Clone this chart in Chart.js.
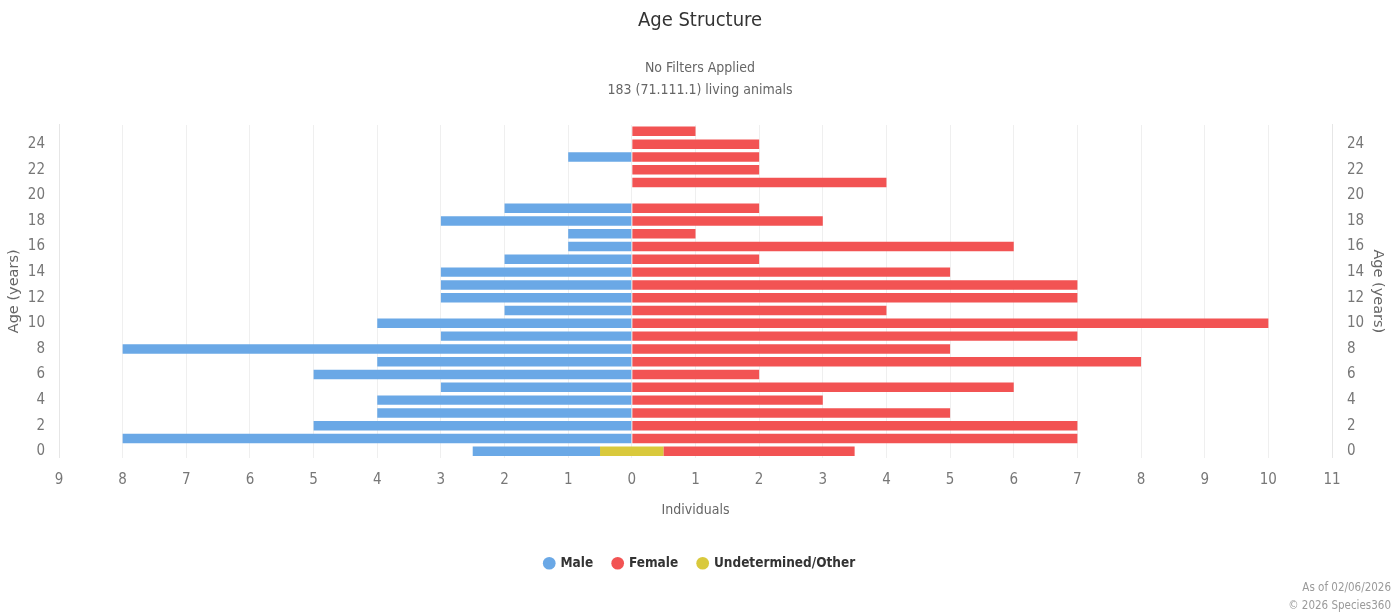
<!DOCTYPE html>
<html>
<head>
<meta charset="utf-8">
<script src="https://cdn.jsdelivr.net/npm/chart.js@4/dist/chart.umd.min.js"></script>
<style>
    html, body { margin: 0; padding: 0; background: #fff; }
    #wrap { position: relative; width: 1400px; height: 616px; }
    #footer {
        position: absolute; right: 9px; bottom: 2px; text-align: right;
        font-family: 'Liberation Sans Narrow', 'DejaVu Sans Condensed', sans-serif;
        font-size: 11.5px; line-height: 18px; color: #9a9a9a;
    }
</style>
</head>
<body>
<div id="wrap">
    <canvas id="ageChart" width="1400" height="616"></canvas>
    <div id="footer">As of 02/06/2026<br>© 2026 Species360</div>
</div>
<script>
// ages 0..25
var ages = ['0','1','2','3','4','5','6','7','8','9','10','11','12','13','14','15','16','17','18','19','20','21','22','23','24','25'];
var male   = [2, 8, 5, 4, 4, 3, 5, 4, 8, 3, 4, 2, 3, 3, 3, 2, 1, 1, 3, 2, 0, 0, 0, 1, 0, 0];
var female = [3, 7, 7, 5, 3, 6, 2, 8, 5, 7, 10, 4, 7, 7, 5, 2, 6, 1, 3, 2, 0, 4, 2, 2, 2, 1];
var other  = [1, 0, 0, 0, 0, 0, 0, 0, 0, 0, 0, 0, 0, 0, 0, 0, 0, 0, 0, 0, 0, 0, 0, 0, 0, 0];
var xTicks = [-9, -8, -7, -6, -5, -4, -3, -2, -1, 0, 1, 2, 3, 4, 5, 6, 7, 8, 9, 10, 11];

var narrow = "'Liberation Sans Narrow', 'DejaVu Sans Condensed', sans-serif";

// undetermined is centred on zero, male/female start from its edges
var maleBars = [], femaleBars = [], otherBars = [];
for (var i = 0; i < ages.length; i++) {
    var half = other[i] / 2;
    maleBars.push(male[i] ? [-half - male[i], -half] : null);
    femaleBars.push(female[i] ? [half, half + female[i]] : null);
    otherBars.push(other[i] ? [-half, half] : null);
}

var evenOnly = function(value, index) {
    var lbl = this.getLabelForValue(value);
    return (parseInt(lbl) % 2 === 0) ? lbl : '';
};

var ctx = document.getElementById('ageChart').getContext('2d');
var ageChart = new Chart(ctx, {
    type: 'bar',
    data: {
        labels: ages,
        datasets: [{
            label: 'Male',
            data: maleBars,
            backgroundColor: '#6aa8e6',
            grouped: false
        }, {
            label: 'Female',
            data: femaleBars,
            backgroundColor: '#f25353',
            grouped: false
        }, {
            label: 'Undetermined/Other',
            data: otherBars,
            backgroundColor: '#d9c93c',
            grouped: false
        }]
    },
    options: {
        indexAxis: 'y',
        responsive: false,
        animation: false,
        categoryPercentage: 1,
        barPercentage: 0.74,
        layout: { padding: { left: 0, right: 0, bottom: 36 } },
        scales: {
            x: {
                type: 'linear',
                min: -9,
                max: 11,
                afterBuildTicks: function(axis) {
                    axis.ticks = xTicks.map(function(v) { return { value: v }; });
                },
                ticks: {
                    callback: function(v) { return Math.abs(v); },
                    font: { family: narrow, size: 15 },
                    color: '#777',
                    padding: 13
                },
                grid: { color: '#efefef', drawTicks: false },
                border: { display: false },
                title: {
                    display: true,
                    text: 'Individuals',
                    font: { family: narrow, size: 14 },
                    color: '#666',
                    padding: { top: 0, bottom: 18 }
                }
            },
            y: {
                type: 'category',
                reverse: true,
                position: 'left',
                afterFit: function(axis) { axis.width = 59; },
                ticks: {
                    autoSkip: false,
                    callback: evenOnly,
                    font: { family: narrow, size: 15 },
                    color: '#777',
                    padding: 14
                },
                grid: { display: false, drawTicks: false },
                border: { color: '#e6e6e6' },
                title: {
                    display: true,
                    text: 'Age (years)',
                    font: { family: "'DejaVu Sans', sans-serif", size: 14.5 },
                    color: '#666',
                    padding: { top: 6, bottom: 2 }
                }
            },
            y2: {
                type: 'category',
                reverse: true,
                position: 'right',
                afterFit: function(axis) { axis.width = 68; },
                ticks: {
                    autoSkip: false,
                    callback: evenOnly,
                    font: { family: narrow, size: 15 },
                    color: '#777',
                    padding: 15
                },
                grid: { display: false, drawTicks: false },
                border: { color: '#e6e6e6' },
                title: {
                    display: true,
                    text: 'Age (years)',
                    font: { family: "'DejaVu Sans', sans-serif", size: 14.5 },
                    color: '#666',
                    padding: { top: 14, bottom: 3 }
                }
            }
        },
        plugins: {
            title: {
                display: true,
                text: 'Age Structure',
                font: { family: narrow, size: 20, weight: 'normal' },
                color: '#333',
                padding: { top: 9, bottom: 18 }
            },
            subtitle: {
                display: true,
                text: ['No Filters Applied', '183 (71.111.1) living animals'],
                font: { family: narrow, size: 14, lineHeight: 1.57 },
                color: '#666',
                padding: { top: 6, bottom: 24 }
            },
            legend: {
                position: 'bottom',
                labels: {
                    usePointStyle: true,
                    pointStyle: 'circle',
                    boxWidth: 9,
                    boxHeight: 9,
                    padding: 20,
                    font: { family: narrow, size: 13.5, weight: 'bold' },
                    color: '#333'
                }
            },
            tooltip: { enabled: false }
        }
    }
});
</script>
</body>
</html>
